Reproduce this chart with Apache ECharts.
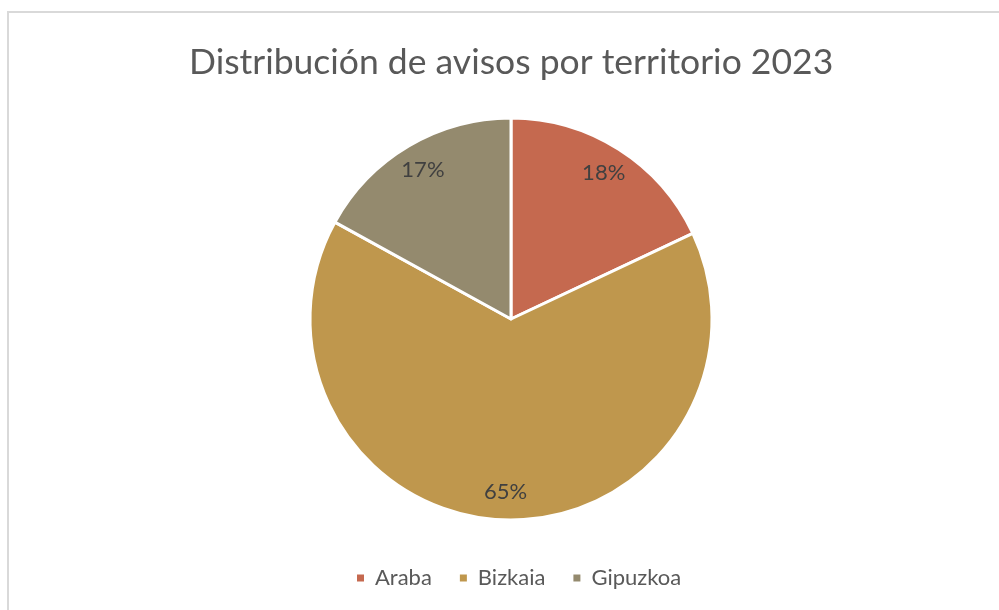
<!DOCTYPE html>
<html>
<head>
<meta charset="utf-8">
<script src="https://cdn.jsdelivr.net/npm/echarts@6/dist/echarts.min.js"></script>
<style>
  html, body { margin: 0; padding: 0; background: #fff; }
  #chart { width: 999px; height: 610px; }
</style>
</head>
<body>
<div id="chart"></div>
<script>
// datos
var territorios = ['Araba', 'Bizkaia', 'Gipuzkoa'];
var porcentajes = [18, 65, 17];
var colores = ['#C5694F', '#BF974D', '#948A6E'];

var datos = territorios.map(function (t, i) {
    return { name: t, value: porcentajes[i], itemStyle: { color: colores[i] } };
});

var fuente = 'Lato, "Liberation Sans", sans-serif';
var myChart = echarts.init(document.getElementById('chart'));

var option = {
    backgroundColor: '#ffffff',
    animation: false,
    title: {
        text: 'Distribución de avisos por territorio 2023',
        left: 184,
        top: 40,
        textStyle: { fontFamily: fuente, fontSize: 35.5, fontWeight: 'normal', color: '#595959' }
    },
    legend: {
        data: territorios,
        top: 562,
        left: 350,
        icon: 'rect',
        itemWidth: 9,
        itemHeight: 9,
        itemGap: 26,
        textStyle: { fontFamily: fuente, fontSize: 22, color: '#595959', padding: [0, 0, 0, 5] }
    },
    graphic: [{
        type: 'rect',
        shape: { x: 8, y: 12, width: 1100, height: 700 },
        style: { fill: 'none', stroke: '#d9d9d9', lineWidth: 2 },
        silent: true
    }],
    series: [{
        // tarta
        type: 'pie',
        center: [511, 319],
        radius: 201,
        startAngle: 90,
        clockwise: true,
        label: { show: false },
        labelLine: { show: false },
        emphasis: { disabled: true },
        itemStyle: { borderColor: '#ffffff', borderWidth: 3 },
        data: datos
    }, {
        // solo etiquetas, anillo transparente para colocarlas a ~0.85 r
        type: 'pie',
        center: [511, 319],
        radius: [140, 200],
        startAngle: 90,
        clockwise: true,
        silent: true,
        emphasis: { disabled: true },
        itemStyle: { color: 'rgba(0,0,0,0)', borderWidth: 0 },
        label: {
            show: true,
            position: 'inside',
            formatter: '{d}%',
            fontFamily: fuente,
            fontSize: 22,
            color: '#404040'
        },
        labelLine: { show: false },
        data: territorios.map(function (t, i) { return { name: t, value: porcentajes[i] }; })
    }]
};
myChart.setOption(option);
</script>
</body>
</html>
